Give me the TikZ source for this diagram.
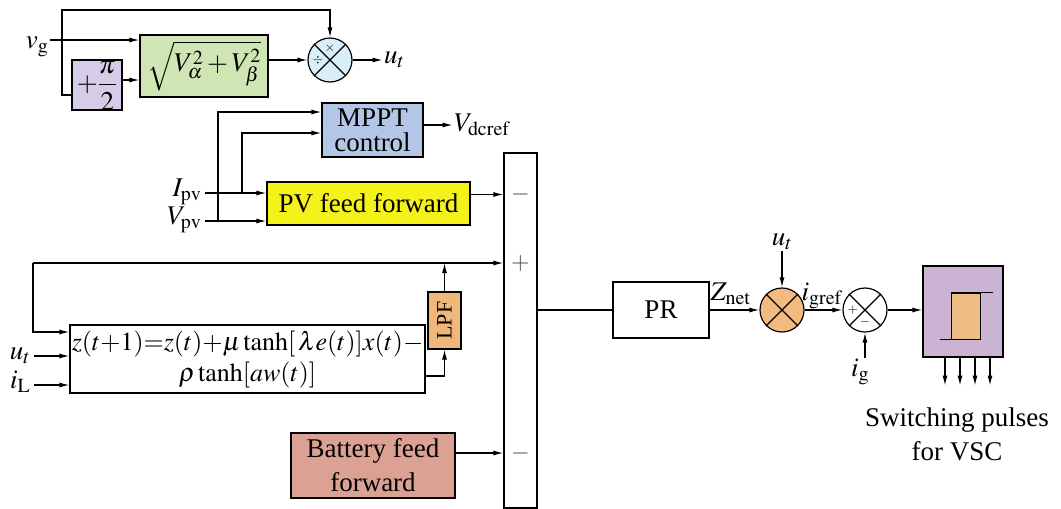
\documentclass[tikz,border=0pt]{standalone}
\usepackage{mathptmx}
\usepackage{fontspec}
\setmainfont{Liberation Serif}
\usepackage{xcolor}
\usetikzlibrary{arrows.meta,positioning,calc}

\definecolor{rmsgreen}{HTML}{CFE5B4}
\definecolor{shiftlilac}{HTML}{D6CCE8}
\definecolor{mulblue}{HTML}{D9EEF9}
\definecolor{mpptblue}{HTML}{B3C6E6}
\definecolor{pvyellow}{HTML}{F5F11A}
\definecolor{lpforange}{HTML}{EFB87A}
\definecolor{battred}{HTML}{DBA193}
\definecolor{mulorange}{HTML}{F4BB80}
\definecolor{hystlilac}{HTML}{CBB3D4}
\definecolor{hystorange}{HTML}{EDBD84}

\begin{document}
\begin{tikzpicture}[
    x=1pt,y=-1pt,line width=1.2pt,
    font=\fontsize{27}{34}\selectfont,
    blk/.style={draw,inner sep=0pt,align=center},
    mix/.style={draw,circle,minimum size=44pt,inner sep=0pt},
    lab/.style={inner sep=1pt},
    sgn/.style={inner sep=0pt,font=\fontsize{13}{13}\selectfont},
    bar/.style={inner sep=0pt,text=black!70,font=\fontsize{24}{24}\selectfont},
    >={Latex[length=10pt,width=5pt]}
  ]
    \useasboundingbox (0,0) rectangle (1061,509);

    % grid voltage unit template
    \node[blk,fill=rmsgreen,minimum width=128pt,minimum height=62pt] (rms) at (204,66) {$\sqrt{V_\alpha^2+V_\beta^2}$};
    \node[blk,fill=shiftlilac,minimum width=50pt,minimum height=50pt] (shift) at (97,85) {$+\displaystyle\frac{\pi}{2}$};
    \node[mix,fill=mulblue] (mul) at (330,60) {};
    \draw (mul.north west) -- (mul.south east) (mul.north east) -- (mul.south west);
    \node[sgn] at ([yshift=12pt]mul.center) {$\times$};
    \node[sgn] at ([xshift=-12pt]mul.center) {$\div$};
    \node[lab,anchor=base east] (vg) at (50,48) {$v_{\mathrm{g}}$};
    \coordinate (vgin) at (50,40);
    \coordinate (vgj) at (62,40);

    \draw[->] (vgin) -- (vgin -| rms.west);
    \draw[->] (vgj) -- ++(0,-30) -| (mul.north);
    \draw (vgj) |- ([yshift=-10pt]shift.west);
    \draw[->] ([yshift=5pt]shift.east) -- ([yshift=5pt]shift.east -| rms.west);
    \draw[->] (rms.east |- mul.west) -- (mul.west);
    \draw[->] (mul.east) -- ++(30,0) node[lab,anchor=west] (ut1) {$u_t$};

    % PV side
    \node[blk,fill=mpptblue,minimum width=101pt,minimum height=54pt,font=\fontsize{27}{25}\selectfont] (mppt) at (372.5,130) {MPPT\\control};
    \node[blk,fill=pvyellow,minimum width=203pt,minimum height=43pt] (pvff) at (368.5,203.5) {PV feed forward};
    \node[lab,anchor=base east] (ipv) at (203,196) {$I_{\mathrm{pv}}$};
    \node[lab,anchor=base east] (vpv) at (203,224) {$V_{\mathrm{pv}}$};
    \coordinate (ipvin) at (205,193);
    \coordinate (vpvin) at (205,221);
    \coordinate (ipvj) at (242,193);
    \coordinate (vpvj) at (218,221);

    \draw[->] (ipvin) -- (ipvin -| pvff.west);
    \draw[->] (vpvin) -- (vpvin -| pvff.west);
    \draw[->] (vpvj) |- ([yshift=18pt]mppt.west);
    \draw[->] (ipvj) |- ([yshift=-3pt]mppt.west);
    \draw[->] ([yshift=5pt]mppt.east) -- ++(29,0) node[lab,anchor=west] (vdc) {$V_{\mathrm{dcref}}$};

    % summing bar
    \node[blk,minimum width=33pt,minimum height=355pt] (sum) at (520.5,330.5) {};
    \node[bar] at (520.5,194) {$-$};
    \node[bar] at (520.5,264) {$+$};
    \node[bar] at (520.5,453) {$-$};
    \draw[->] ([yshift=9pt]pvff.east) coordinate (pvo) -- (pvo -| sum.west);

    % adaptive filter
    \node[blk,minimum width=355pt,minimum height=68pt,font=\fontsize{26}{31}\selectfont] (eq) at (247.5,359)
      {$z(t{+}1){=}z(t){+}\mu\tanh[\,\lambda e(t)]x(t){-}$\\$\rho\tanh[aw(t)]$};
    \node[blk,fill=lpforange,minimum width=57pt,minimum height=33pt,rotate=90,font=\fontsize{22}{22}\selectfont] (lpf) at (444.5,320.5) {LPF};
    \node[lab,anchor=base east] (ut2) at (32,359) {$u_t$};
    \node[lab,anchor=base east] (il) at (32,388) {$i_{\mathrm{L}}$};
    \coordinate (utin) at (34,356);
    \coordinate (ilin) at (34,385);
    \coordinate (fbl) at (33,263);

    \draw[->] (utin) -- (utin -| eq.west);
    \draw[->] (ilin) -- (ilin -| eq.west);
    \draw[->] ([yshift=-17pt]eq.east) -| (lpf.west);
    \draw[->] (lpf.east) -- (lpf.east |- fbl);
    \draw[->] (fbl) -- (fbl -| sum.west);
    \draw[->] (fbl) |- ([yshift=27pt]eq.west);

    % battery
    \node[blk,fill=battred,minimum width=164pt,minimum height=65pt] (batt) at (373,465.5) {Battery feed\\forward};
    \draw[->] ([yshift=12.5pt]batt.east) coordinate (bo) -- (bo -| sum.west);

    % current loop
    \node[blk,minimum width=96pt,minimum height=56pt] (pr) at (661,310) {PR};
    \node[mix,fill=mulorange] (mulb) at (782,310) {};
    \draw (mulb.north west) -- (mulb.south east) (mulb.north east) -- (mulb.south west);
    \node[mix,fill=white] (err) at (865,310) {};
    \draw (err.north west) -- (err.south east) (err.north east) -- (err.south west);
    \node[sgn] at ([xshift=-12pt]err.center) {$+$};
    \node[sgn] at ([yshift=-12pt]err.center) {$-$};
    \node[lab,anchor=base west] (znet) at (709,300) {$Z_{\mathrm{net}}$};
    \node[lab,anchor=base west] (igref) at (800,300) {$i_{\mathrm{gref}}$};
    \node[lab,anchor=base] (ut3) at (782,245) {$u_t$};
    \node[lab,anchor=base] (ig) at (860,376) {$i_{\mathrm{g}}$};
    \coordinate (ut3in) at (782,251);
    \coordinate (igin) at (865,358);

    \draw (sum.east |- pr.west) -- (pr.west);
    \draw[->] (pr.east) -- (mulb.west);
    \draw[->] (ut3in) -- (mulb.north);
    \draw[->] (mulb.east) -- (err.west);
    \draw[->] (igin) -- (err.south);

    % hysteresis controller
    \node[blk,fill=hystlilac,minimum width=80pt,minimum height=91pt] (hyst) at (963,311.5) {};
    \node[draw,line width=1pt,fill=hystorange,minimum width=29pt,minimum height=46pt,inner sep=0pt] (hysb) at (965.5,316) {};
    \draw (hysb.north west) -- ++(42,0);
    \draw (hysb.south west) -- ++(-11,0);
    \draw[->] (err.east) -- (err.east -| hyst.west);
    \foreach \dx in {-18,-3,12,27}
      \draw[->] ([xshift=\dx pt]hyst.south) -- ++(0,28);
    \node[align=center] (pulses) at (957,434) {Switching pulses\\for VSC};
  \end{tikzpicture}
\end{document}
